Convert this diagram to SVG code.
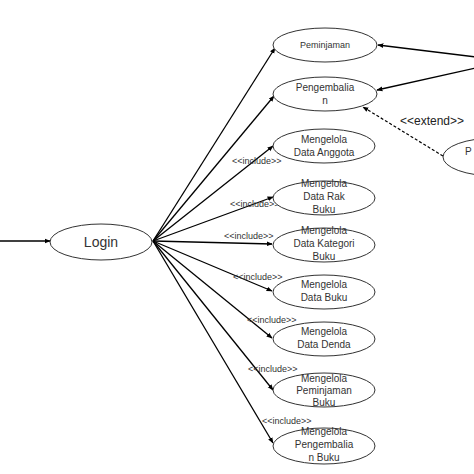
<svg xmlns="http://www.w3.org/2000/svg" width="474" height="474" viewBox="0 0 474 474">
<defs>
<marker id="ah" viewBox="0 0 10 10" refX="9" refY="5" markerWidth="6" markerHeight="6" orient="auto" markerUnits="userSpaceOnUse"><path d="M0,1 L10,5 L0,9 z" fill="#000"/></marker>
<style>
.uc{fill:#fff;stroke:#333;stroke-width:1}
.t{font-family:"Liberation Sans",Arial,sans-serif;font-size:10px;fill:#333;text-anchor:middle}
.lbl{font-family:"Liberation Sans",Arial,sans-serif;font-size:9px;fill:#333}
.ln{stroke:#000;stroke-width:1.3;fill:none;marker-end:url(#ah)}
.dash{stroke:#000;stroke-width:1.2;fill:none;stroke-dasharray:3,2;marker-end:url(#ah)}
</style>
</defs>
<rect width="474" height="474" fill="#fff"/>
<g id="connectors">
<line class="ln" x1="0" y1="241" x2="50" y2="241"/>
<line class="ln" x1="153" y1="241" x2="275" y2="48"/>
<line class="ln" x1="153" y1="241" x2="274" y2="96"/>
<line class="ln" x1="153" y1="241" x2="273" y2="146"/>
<line class="ln" x1="153" y1="241" x2="273" y2="197"/>
<line class="ln" x1="153" y1="241" x2="272" y2="244"/>
<line class="ln" x1="153" y1="241" x2="272" y2="291"/>
<line class="ln" x1="153" y1="241" x2="272" y2="338"/>
<line class="ln" x1="153" y1="241" x2="273" y2="390"/>
<line class="ln" x1="153" y1="241" x2="273" y2="443"/>
<line class="ln" x1="476" y1="57" x2="378" y2="45"/>
<line class="ln" x1="476" y1="68" x2="377" y2="90"/>
<line class="dash" x1="443" y1="156" x2="363" y2="107"/>
<text class="lbl" x="232" y="164">&lt;&lt;include&gt;&gt;</text>
<text class="lbl" x="230" y="207">&lt;&lt;include&gt;&gt;</text>
<text class="lbl" x="224" y="239">&lt;&lt;include&gt;&gt;</text>
<text class="lbl" x="233" y="280">&lt;&lt;include&gt;&gt;</text>
<text class="lbl" x="247" y="323">&lt;&lt;include&gt;&gt;</text>
<text class="lbl" x="248" y="372">&lt;&lt;include&gt;&gt;</text>
<text class="lbl" x="262" y="424">&lt;&lt;include&gt;&gt;</text>
<text x="400" y="125" font-family="Liberation Sans,Arial,sans-serif" font-size="12" fill="#222">&lt;&lt;extend&gt;&gt;</text>
</g>
<g id="login"><ellipse class="uc" cx="101" cy="242" rx="51" ry="18"/><text class="t" x="101" y="247" style="font-size:14px">Login</text></g>
<g id="peminjaman"><ellipse class="uc" cx="325" cy="45" rx="52" ry="17"/><text class="t" x="325" y="48" style="font-size:9px">Peminjaman</text></g>
<g id="pengembalian"><ellipse class="uc" cx="325" cy="94" rx="52" ry="17"/><text class="t" x="325" y="91">Pengembalia</text><text class="t" x="325" y="104">n</text></g>
<g id="anggota"><ellipse class="uc" cx="324" cy="146" rx="51" ry="17"/><text class="t" x="324" y="143">Mengelola</text><text class="t" x="324" y="156">Data Anggota</text></g>
<g id="rak"><ellipse class="uc" cx="324" cy="198" rx="51" ry="17"/><text class="t" x="324" y="187">Mengelola</text><text class="t" x="324" y="200">Data Rak</text><text class="t" x="324" y="213">Buku</text></g>
<g id="kategori"><ellipse class="uc" cx="324" cy="245" rx="51" ry="17"/><text class="t" x="324" y="234">Mengelola</text><text class="t" x="324" y="247">Data Kategori</text><text class="t" x="324" y="260">Buku</text></g>
<g id="buku"><ellipse class="uc" cx="324" cy="292" rx="51" ry="17"/><text class="t" x="324" y="288">Mengelola</text><text class="t" x="324" y="301">Data Buku</text></g>
<g id="denda"><ellipse class="uc" cx="324" cy="339" rx="51" ry="17"/><text class="t" x="324" y="335">Mengelola</text><text class="t" x="324" y="348">Data Denda</text></g>
<g id="pinjambuku"><ellipse class="uc" cx="324" cy="390" rx="51" ry="17"/><text class="t" x="324" y="382">Mengelola</text><text class="t" x="324" y="394">Peminjaman</text><text class="t" x="324" y="406">Buku</text></g>
<g id="kembalibuku"><ellipse class="uc" cx="324" cy="446" rx="51" ry="18"/><text class="t" x="324" y="435">Mengelola</text><text class="t" x="324" y="448">Pengembalia</text><text class="t" x="324" y="461">n Buku</text></g>
<g id="right"><ellipse class="uc" cx="495" cy="157" rx="52" ry="19"/><text class="t" x="465" y="155" style="text-anchor:start">P</text></g>
</svg>
